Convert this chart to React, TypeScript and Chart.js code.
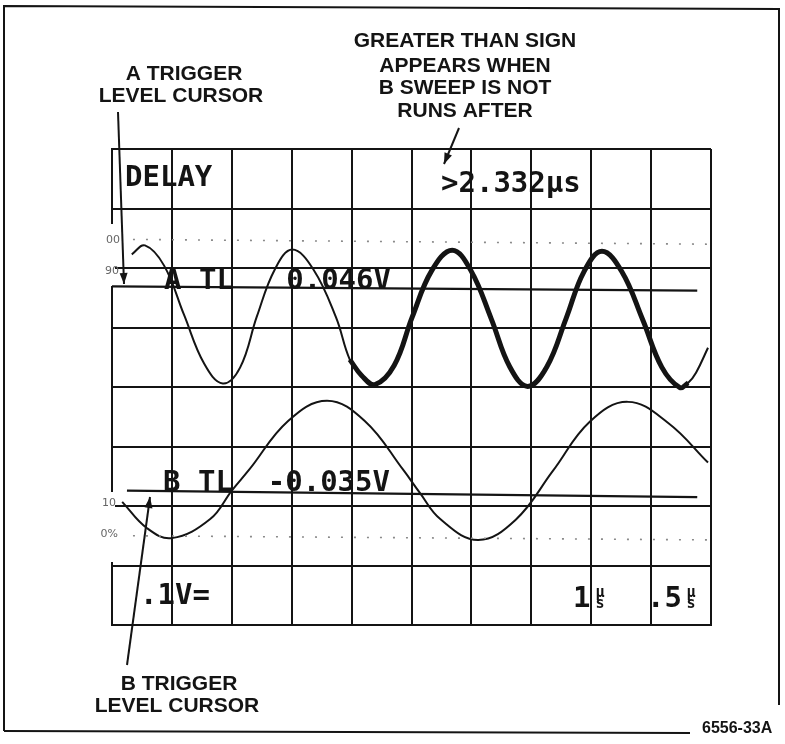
import React, { useEffect, useRef } from "react";
import { Chart, registerables } from "chart.js";

Chart.register(...registerables);

// Horizontal axis: graticule divisions (1 µs/div, A sweep); vertical axis: graticule divisions
const upperTraceX = [0.33, 0.55, 0.87, 1.2, 1.54, 1.85, 2.14, 2.42, 2.72, 3.01, 3.36, 3.74, 3.97, 4.17, 4.39, 4.71, 5.01, 5.34, 5.68, 5.99, 6.33, 6.64, 6.94, 7.26, 7.58, 7.88, 8.18, 8.51, 8.86, 9.18, 9.48, 9.62, 9.75, 9.95];
const upperTraceY = [6.23, 6.38, 6.04, 5.22, 4.39, 4.06, 4.33, 5.19, 5.98, 6.31, 5.98, 5.17, 4.46, 4.19, 4.04, 4.36, 5.17, 5.96, 6.3, 5.96, 5.15, 4.34, 4.01, 4.34, 5.15, 5.94, 6.28, 5.94, 5.13, 4.33, 3.99, 4.07, 4.24, 4.66];
const intensifiedStart = 3.97;
const intensifiedEnd = 9.62;

const lowerTraceX = [0.17, 0.58, 1.0, 1.64, 2.0, 2.29, 2.94, 3.59, 4.22, 4.86, 5.14, 5.48, 6.11, 6.74, 7.36, 7.98, 8.61, 9.28, 9.95];
const lowerTraceY = [2.07, 1.63, 1.46, 1.78, 2.26, 2.61, 3.43, 3.77, 3.43, 2.61, 2.22, 1.78, 1.43, 1.77, 2.59, 3.42, 3.75, 3.4, 2.73];

const aCursorX = [0, 9.77];
const aCursorY = [5.69, 5.62];
const bCursorX = [0.25, 9.77];
const bCursorY = [2.26, 2.15];

const refTopX = [0.35, 9.95];
const refTopY = [6.48, 6.4];
const refBottomX = [0.35, 9.95];
const refBottomY = [1.5, 1.43];

const xDivisions = 10;
const yDivisions = 8;

const readoutDelay = "DELAY";
const readoutDelayValue = ">2.332\u03bcs";
const readoutATL = "A TL   0.046V";
const readoutBTL = "B TL  -0.035V";
const readoutVolts = ".1V=";
const readoutSweepA = "1";
const readoutSweepB = ".5";

const noteGreater = ["GREATER THAN SIGN", "APPEARS WHEN", "B SWEEP IS NOT", "RUNS AFTER"];
const noteATrigger = ["A TRIGGER", "LEVEL CURSOR"];
const noteBTrigger = ["B TRIGGER", "LEVEL CURSOR"];
const figureId = "6556-33A";
const percentLabels = ["00", "90", "10", "0%"];

const zip = (xs: number[], ys: number[]) => xs.map((x, i) => ({ x, y: ys[i] }));

const INK = "#141414";

function arrow(ctx: CanvasRenderingContext2D, x1: number, y1: number, x2: number, y2: number) {
  ctx.beginPath();
  ctx.moveTo(x1, y1);
  ctx.lineTo(x2, y2);
  ctx.stroke();
  const a = Math.atan2(y2 - y1, x2 - x1);
  const len = 11;
  const w = 4;
  ctx.beginPath();
  ctx.moveTo(x2, y2);
  ctx.lineTo(x2 - len * Math.cos(a) + w * Math.sin(a), y2 - len * Math.sin(a) - w * Math.cos(a));
  ctx.lineTo(x2 - len * Math.cos(a) - w * Math.sin(a), y2 - len * Math.sin(a) + w * Math.cos(a));
  ctx.closePath();
  ctx.fill();
}

const overlayPlugin = {
  id: "scopeOverlay",
  beforeDatasetsDraw(chart: any) {
    const ctx = chart.ctx as CanvasRenderingContext2D;
    const left = chart.chartArea.left;
    ctx.save();
    ctx.fillStyle = "#ffffff";
    ctx.fillRect(left - 3, 224, 6, 62);
    ctx.fillRect(left - 3, 492, 6, 70);
    ctx.restore();
  },
  afterDraw(chart: any) {
    const ctx = chart.ctx as CanvasRenderingContext2D;
    ctx.save();
    ctx.fillStyle = INK;
    ctx.strokeStyle = INK;

    // outer figure frame
    ctx.lineWidth = 2;
    ctx.beginPath();
    ctx.moveTo(4, 731);
    ctx.lineTo(4, 6);
    ctx.lineTo(779, 9);
    ctx.lineTo(779, 705);
    ctx.stroke();
    ctx.beginPath();
    ctx.moveTo(4, 731);
    ctx.lineTo(690, 733);
    ctx.stroke();

    // screen readouts
    ctx.font = "bold 29px 'DejaVu Sans Mono', monospace";
    ctx.textAlign = "left";
    ctx.textBaseline = "alphabetic";
    ctx.fillText(readoutDelay, 125, 186);
    ctx.fillText(readoutDelayValue, 441, 192);
    ctx.fillText(readoutATL, 164, 289);
    ctx.fillText(readoutBTL, 163, 491);
    ctx.fillText(readoutVolts, 140, 604);
    ctx.fillText(readoutSweepA, 573, 607);
    ctx.fillText(readoutSweepB, 647, 607);
    ctx.font = "bold 15px 'DejaVu Sans Mono', monospace";
    ctx.textAlign = "center";
    ctx.fillText("\u03bc", 600, 597);
    ctx.fillText("s", 600, 608);
    ctx.fillText("\u03bc", 691, 597);
    ctx.fillText("s", 691, 608);

    // faint percent labels at left of graticule
    ctx.fillStyle = "#666";
    ctx.font = "11px 'DejaVu Sans', sans-serif";
    ctx.textAlign = "right";
    ctx.fillText(percentLabels[0], 120, 243);
    ctx.fillText(percentLabels[1], 119, 274);
    ctx.fillText(percentLabels[2], 116, 506);
    ctx.fillText(percentLabels[3], 118, 537);

    // annotations
    ctx.fillStyle = INK;
    ctx.font = "bold 21px 'Liberation Sans', Arial, sans-serif";
    ctx.textAlign = "center";
    const gBase = [47, 72, 94, 117];
    noteGreater.forEach((t, i) => ctx.fillText(t, 465, gBase[i]));
    ctx.fillText(noteATrigger[0], 184, 80);
    ctx.fillText(noteATrigger[1], 181, 102);
    ctx.fillText(noteBTrigger[0], 179, 690);
    ctx.fillText(noteBTrigger[1], 177, 712);
    ctx.font = "bold 16px 'Liberation Sans', Arial, sans-serif";
    ctx.textAlign = "left";
    ctx.fillText(figureId, 702, 733);

    ctx.lineWidth = 2;
    arrow(ctx, 118, 112, 124, 284);
    arrow(ctx, 459, 128, 444, 164);
    arrow(ctx, 127, 665, 150, 497);

    ctx.restore();
  },
};

export default function App() {
  const canvasRef = useRef<HTMLCanvasElement | null>(null);

  useEffect(() => {
    document.body.style.margin = "0";
    document.body.style.background = "#ffffff";
    const canvas = canvasRef.current;
    if (!canvas) return;

    const upperAll = zip(upperTraceX, upperTraceY);
    const upperBright = upperAll.filter((p) => p.x >= intensifiedStart && p.x <= intensifiedEnd);

    const line = (data: any[], width: number, extra: any = {}) => ({
      type: "line",
      data,
      borderColor: INK,
      borderWidth: width,
      pointRadius: 0,
      fill: false,
      tension: 0.4,
      ...extra,
    });

    const chart = new Chart(canvas, {
      type: "line",
      data: {
        datasets: [
          line(zip(refTopX, refTopY), 1.6, { borderColor: "#8a8a8a", borderDash: [2, 11], tension: 0 }),
          line(zip(refBottomX, refBottomY), 1.6, { borderColor: "#8a8a8a", borderDash: [2, 11], tension: 0 }),
          line(zip(aCursorX, aCursorY), 2.2, { tension: 0 }),
          line(zip(bCursorX, bCursorY), 2.2, { tension: 0 }),
          line(upperAll, 2),
          line(upperBright, 5),
          line(zip(lowerTraceX, lowerTraceY), 2),
        ] as any,
      },
      options: {
        responsive: false,
        animation: false,
        devicePixelRatio: 1,
        layout: { padding: { left: 112, top: 149, right: 74, bottom: 119 } },
        plugins: { legend: { display: false }, tooltip: { enabled: false } },
        elements: { point: { radius: 0 } },
        scales: {
          x: {
            type: "linear",
            min: 0,
            max: xDivisions,
            ticks: { display: false, stepSize: 1 },
            grid: { color: INK, lineWidth: 2, drawTicks: false },
            border: { display: true, color: INK, width: 2 },
          },
          y: {
            type: "linear",
            min: 0,
            max: yDivisions,
            ticks: { display: false, stepSize: 1 },
            grid: { color: INK, lineWidth: 2, drawTicks: false },
            border: { display: true, color: INK, width: 2 },
          },
        },
      } as any,
      plugins: [overlayPlugin],
    });

    return () => chart.destroy();
  }, []);

  return (
    <div style={{ position: "relative", width: 785, height: 744, background: "#fff" }}>
      <canvas ref={canvasRef} width={785} height={744} style={{ display: "block", width: 785, height: 744 }} />
    </div>
  );
}
